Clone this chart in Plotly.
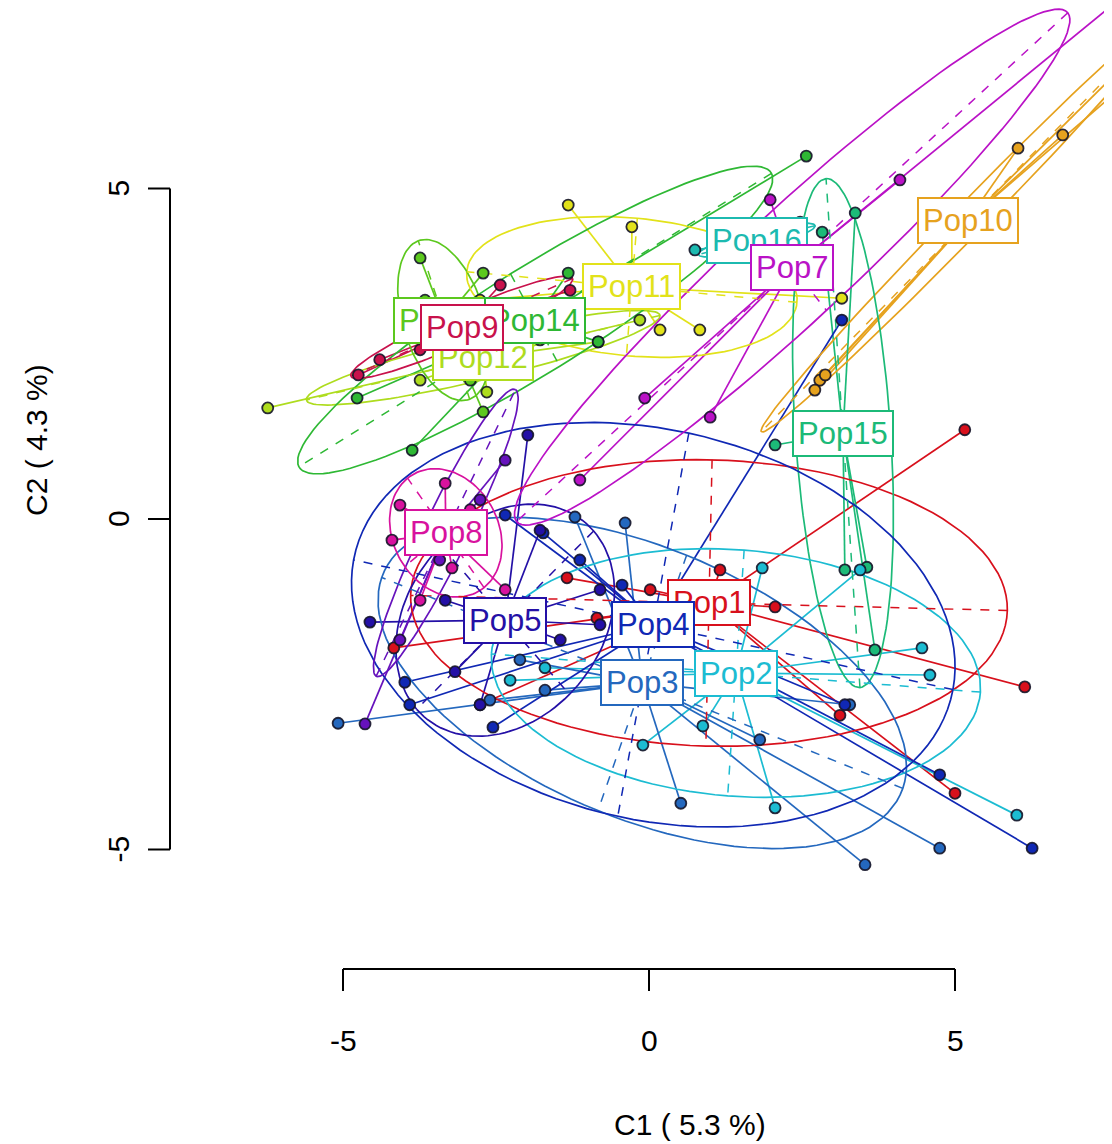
import numpy as np
import plotly.graph_objects as go

# ---- data -------------------------------------------------------------
pop_names = ["Pop1", "Pop10", "Pop11", "Pop12", "Pop13", "Pop14", "Pop15", "Pop16",
             "Pop2", "Pop3", "Pop4", "Pop5", "Pop6", "Pop7", "Pop8", "Pop9"]
pop_colors = ["#D8101C", "#E6A21E", "#E2E21A", "#AEDC1E", "#5CC81E", "#2EB834", "#1CBA78", "#1CBAB0",
              "#1CBCD2", "#2468BE", "#1028B4", "#2410A6", "#6612BC", "#BA12C6", "#D8129E", "#C8124C"]
centroid_x = [0.98, 5.21, -0.28, -2.71, -3.35, -1.86, 3.17, 1.76,
              1.42, -0.11, 0.07, -2.35, -3.32, 2.34, -3.32, -3.06]
centroid_y = [-1.27, 4.52, 3.51, 2.44, 3.01, 3.01, 1.30, 4.22,
              -2.33, -2.48, -1.60, -1.53, -0.21, 3.81, -0.21, 2.90]

pop1_x = [5.16, 6.14, 1.16, 0.02, 2.06, -1.34, -4.17, 5.00, -0.85, -2.76, 3.12]
pop1_y = [1.35, -2.54, -0.77, -1.07, -1.33, -0.89, -1.95, -4.15, -1.50, -2.81, -2.97]
pop10_x = [2.79, 2.88, 2.71, 6.03, 6.76, 8.02, 7.86]
pop10_y = [2.10, 2.18, 1.95, 5.61, 5.81, 7.10, 6.64]
pop11_x = [-0.28, -1.32, 3.15, 0.83, -1.78, -2.76, 0.18]
pop11_y = [4.42, 4.75, 3.34, 2.86, 3.01, 3.31, 2.86]
pop12_x = [-6.23, -0.83, -2.65, -1.78, -1.45, -0.15, -3.74]
pop12_y = [1.68, 2.68, 1.92, 2.71, 2.86, 3.01, 2.10]
pop13_x = [-3.74, -2.71, -4.07, -3.42, -2.92, -3.66, -2.71]
pop13_y = [3.95, 3.72, 2.86, 2.41, 2.10, 3.31, 1.62]
pop14_x = [2.57, -1.32, -4.77, -3.87, -0.83]
pop14_y = [5.49, 3.72, 1.83, 1.04, 2.68]
pop15_x = [3.37, 2.83, 2.06, 3.20, 3.69, 3.56]
pop15_y = [4.63, 4.34, 1.12, -0.77, -1.98, -0.73]
pop16_x = [0.75, 2.47, 1.81, 2.06]
pop16_y = [4.07, 4.49, 4.10, 4.30]
pop2_x = [6.01, 4.59, 4.46, 0.88, -0.10, 2.06, -2.27, 1.85, 3.45, -1.70]
pop2_y = [-4.48, -2.36, -1.95, -3.13, -3.42, -4.37, -2.44, -0.74, -0.77, -2.25]
pop3_x = [0.52, 3.53, 4.75, -5.08, -1.21, -0.39, -2.11, -1.70, -2.60, 1.81, 3.28]
pop3_y = [-4.30, -5.23, -4.98, -3.09, 0.03, -0.06, -2.13, -2.59, -2.74, -3.34, -2.81]
pop4_x = [6.26, 4.75, 3.15, -1.73, -3.99, -3.91, -2.55, 3.20, -0.44, -1.13, -2.35, 0.51]
pop4_y = [-4.98, -3.87, 3.01, -0.21, -2.47, -2.81, -3.15, -2.81, -1.00, -0.62, 0.06, -1.38]
pop5_x = [-1.98, -2.76, -4.56, -1.78, -0.80, -1.45, -3.17, -0.80, -3.33]
pop5_y = [1.27, -2.81, -1.56, -0.17, -1.07, -1.83, -2.31, -1.60, -1.23]
pop6_x = [-4.64, -4.07, -2.76, -2.35, -3.42, -2.92]
pop6_y = [-3.10, -1.83, 0.29, 0.89, -0.62, -0.17]
pop7_x = [-0.07, 1.00, 4.10, 8.00, -1.13, 1.98]
pop7_y = [1.83, 1.54, 5.13, 8.10, 0.59, 4.83]
pop8_x = [-3.33, -4.20, -3.22, -2.35, -2.92, -4.07, -3.74]
pop8_y = [0.54, -0.32, -0.74, -1.07, 0.14, 0.21, -1.23]
pop9_x = [-4.75, -1.29, -2.43, -3.74, -3.42, -4.40]
pop9_y = [2.18, 3.46, 3.54, 2.56, 2.86, 2.41]

points_x = [pop1_x, pop10_x, pop11_x, pop12_x, pop13_x, pop14_x, pop15_x, pop16_x,
            pop2_x, pop3_x, pop4_x, pop5_x, pop6_x, pop7_x, pop8_x, pop9_x]
points_y = [pop1_y, pop10_y, pop11_y, pop12_y, pop13_y, pop14_y, pop15_y, pop16_y,
            pop2_y, pop3_y, pop4_y, pop5_y, pop6_y, pop7_y, pop8_y, pop9_y]

axis_ticks = [-5, 0, 5]
x_title = "C1 ( 5.3 %)"
y_title = "C2 ( 4.3 %)"
ellipse_scale = 1.5

# ---- figure -----------------------------------------------------------
fig = go.Figure()
FONT = "Liberation Sans, Arial, sans-serif"
W, H = 1112, 1144
OFF = 8          # page body margin of the written html
PX_X, PX_Y = 61.2, 66.1   # pixels per data unit
X0_PAGE, Y0_PAGE = 649, 519  # page pixel of the data origin


def px(p):   # page pixel -> paper x
    return (p - OFF) / W


def py(p):   # page pixel -> paper y
    return 1 - (p - OFF) / H


star_traces, ell_traces, axis_traces, pt_traces = [], [], [], []
t = np.linspace(0, 2 * np.pi, 121)
for name, col, cx, cy, xs, ys in zip(pop_names, pop_colors, centroid_x, centroid_y, points_x, points_y):
    xs = np.asarray(xs, float)
    ys = np.asarray(ys, float)
    sx, sy = [], []
    for a, b in zip(xs, ys):
        sx += [cx, a, None]
        sy += [cy, b, None]
    star_traces.append(go.Scatter(x=sx, y=sy, mode="lines", line=dict(color=col, width=1.7),
                                  hoverinfo="skip", showlegend=False))
    dx, dy = xs - cx, ys - cy
    cov = np.array([[np.mean(dx * dx), np.mean(dx * dy)], [np.mean(dx * dy), np.mean(dy * dy)]])
    vals, vecs = np.linalg.eigh(cov)
    vals = np.clip(vals, 0, None)
    a_len = ellipse_scale * np.sqrt(vals[1])
    b_len = ellipse_scale * np.sqrt(vals[0])
    v1, v2 = vecs[:, 1], vecs[:, 0]
    ex = cx + a_len * np.cos(t) * v1[0] + b_len * np.sin(t) * v2[0]
    ey = cy + a_len * np.cos(t) * v1[1] + b_len * np.sin(t) * v2[1]
    ell_traces.append(go.Scatter(x=ex, y=ey, mode="lines", line=dict(color=col, width=1.7),
                                 hoverinfo="skip", showlegend=False))
    ax_x = [cx - a_len * v1[0], cx + a_len * v1[0], None, cx - b_len * v2[0], cx + b_len * v2[0]]
    ax_y = [cy - a_len * v1[1], cy + a_len * v1[1], None, cy - b_len * v2[1], cy + b_len * v2[1]]
    axis_traces.append(go.Scatter(x=ax_x, y=ax_y, mode="lines", line=dict(color=col, width=1.5, dash="dash"),
                                  hoverinfo="skip", showlegend=False))
    pt_traces.append(go.Scatter(x=xs, y=ys, mode="markers", name=name,
                                marker=dict(size=11, color=col, line=dict(color="rgba(20,20,40,0.9)", width=1.8)),
                                showlegend=False))

for tr in star_traces + ell_traces + axis_traces + pt_traces:
    fig.add_trace(tr)

annotations = []
for name, col, cx, cy in zip(pop_names, pop_colors, centroid_x, centroid_y):
    annotations.append(dict(x=cx, y=cy, xref="x", yref="y", text=name, showarrow=False,
                            xanchor="center", yanchor="middle",
                            font=dict(family=FONT, size=31, color=col),
                            bgcolor="white", bordercolor=col, borderwidth=2, borderpad=4))

shapes = [dict(type="line", xref="x", yref="paper", x0=axis_ticks[0], x1=axis_ticks[-1],
               y0=py(969), y1=py(969), line=dict(color="black", width=2)),
          dict(type="line", xref="paper", yref="y", x0=px(170), x1=px(170),
               y0=axis_ticks[0], y1=axis_ticks[-1], line=dict(color="black", width=2))]
for v in axis_ticks:
    shapes.append(dict(type="line", xref="x", yref="paper", x0=v, x1=v, y0=py(969), y1=py(991),
                       line=dict(color="black", width=2)))
    shapes.append(dict(type="line", xref="paper", yref="y", x0=px(170), x1=px(148), y0=v, y1=v,
                       line=dict(color="black", width=2)))
    annotations.append(dict(x=v, y=py(1040), xref="x", yref="paper", text=str(v), showarrow=False,
                            xanchor="center", yanchor="middle",
                            font=dict(family=FONT, size=30, color="black")))
    annotations.append(dict(x=px(118), y=v, xref="paper", yref="y", text=str(v), showarrow=False,
                            xanchor="center", yanchor="middle", textangle=-90,
                            font=dict(family=FONT, size=30, color="black")))
annotations.append(dict(x=px(690), y=py(1124), xref="paper", yref="paper", text=x_title, showarrow=False,
                        xanchor="center", yanchor="middle",
                        font=dict(family=FONT, size=30, color="black")))
annotations.append(dict(x=px(36), y=py(440), xref="paper", yref="paper", text=y_title, showarrow=False,
                        xanchor="center", yanchor="middle", textangle=-90,
                        font=dict(family=FONT, size=30, color="black")))

fig.update_layout(
    width=W, height=H, margin=dict(l=0, r=0, t=0, b=0),
    paper_bgcolor="white", plot_bgcolor="white",
    xaxis=dict(range=[(OFF - X0_PAGE) / PX_X, (OFF + W - X0_PAGE) / PX_X], visible=False, fixedrange=True),
    yaxis=dict(range=[(Y0_PAGE - OFF - H) / PX_Y, (Y0_PAGE - OFF) / PX_Y], visible=False, fixedrange=True),
    shapes=shapes, annotations=annotations, showlegend=False,
)
fig.write_html("out.html")
